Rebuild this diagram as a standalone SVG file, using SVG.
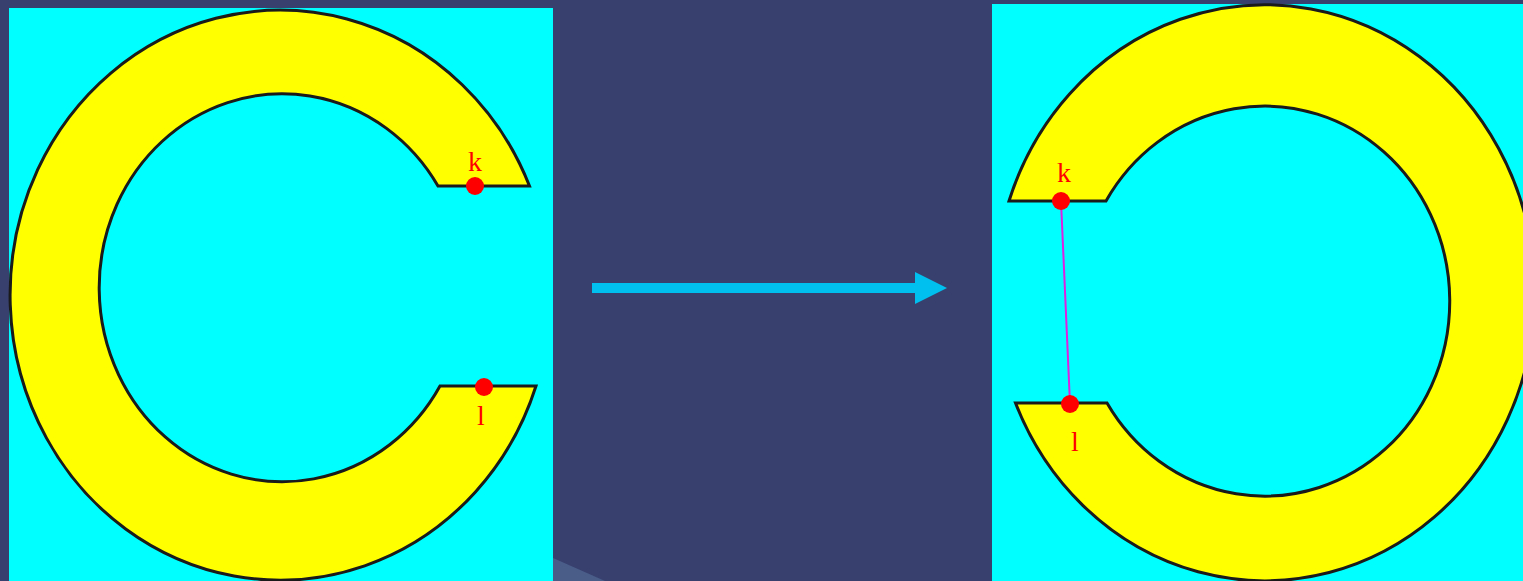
<svg xmlns="http://www.w3.org/2000/svg" width="1523" height="581" viewBox="0 0 1523 581">
<style>
.ring{fill:#ffff00;stroke:#1a1a1a;stroke-width:3;stroke-linejoin:miter}
.dot{fill:#ff0000}
.lbl{fill:#ff0000;font-family:"Liberation Serif",serif;font-size:28px;text-anchor:middle}
</style>
<rect x="0" y="0" width="1523" height="581" fill="#38406e"/>
<polygon points="553,558 605,581 553,581" fill="#5a74a0" opacity="0.55"/>
<g id="left-panel">
<rect x="9" y="8" width="544" height="573" fill="#00ffff"/>
<path class="ring" d="M529.5,186 A270,285 0 1 0 536,386 L440,386 A183,194 0 1 1 438,186 Z"/>
</g>
<g id="left-k">
<circle class="dot" cx="475" cy="186" r="9"/>
<text class="lbl" x="475" y="171">k</text>
</g>
<g id="left-l">
<circle class="dot" cx="484" cy="387" r="9"/>
<text class="lbl" x="481" y="425">l</text>
</g>
<g id="right-panel">
<rect x="992" y="4" width="531" height="577" fill="#00ffff"/>
<path class="ring" d="M1009,201 A270,288 0 1 1 1015.5,403 L1107,403 A185,195 0 1 0 1106,201 Z"/>
</g>
<g id="connectors">
<line x1="592" y1="288" x2="917" y2="288" stroke="#00c0f0" stroke-width="10"/>
<polygon points="915,272 947,288 915,304" fill="#00c0f0"/>
<line x1="1061" y1="201" x2="1070" y2="404" stroke="#e020e0" stroke-width="2"/>
</g>
<g id="right-k">
<circle class="dot" cx="1061" cy="201" r="9"/>
<text class="lbl" x="1064" y="182">k</text>
</g>
<g id="right-l">
<circle class="dot" cx="1070" cy="404" r="9"/>
<text class="lbl" x="1075" y="451">l</text>
</g>
</svg>
